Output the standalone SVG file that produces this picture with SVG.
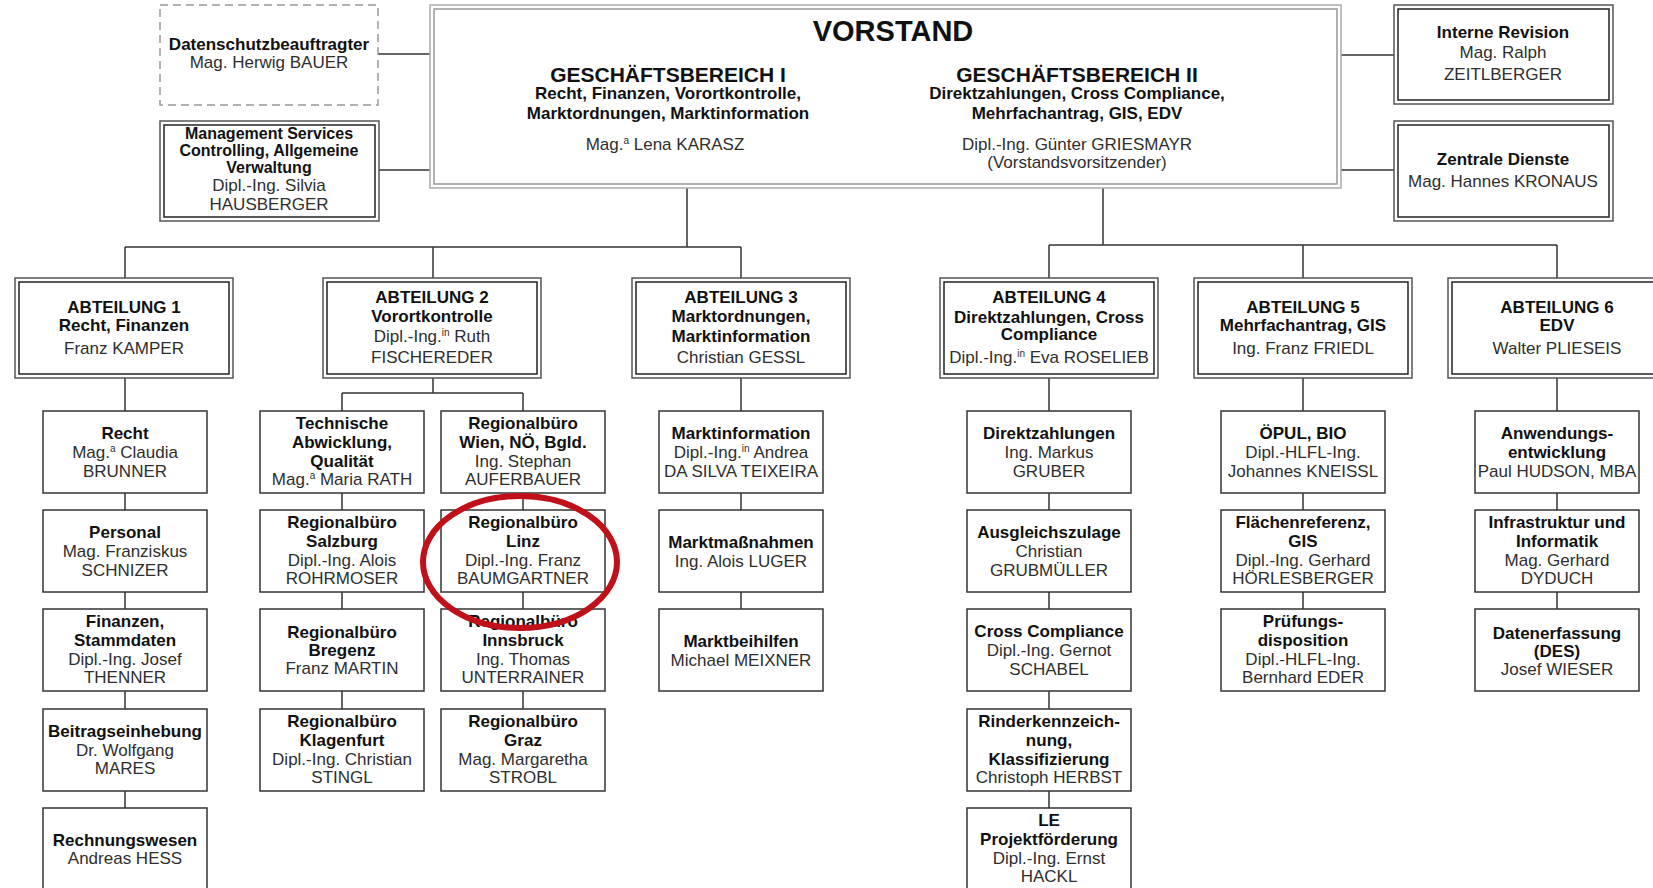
<svg xmlns="http://www.w3.org/2000/svg" width="1653" height="888" viewBox="0 0 1653 888">
<style>
text{font-family:"Liberation Sans",Arial,sans-serif;font-size:17px;text-anchor:middle;fill:#2e2e2e}
.b{font-weight:bold;fill:#111}
.box{fill:#fff;stroke:#333;stroke-width:1.5}
.dbo{fill:#fff;stroke:#555;stroke-width:1.5}
.dbi{fill:none;stroke:#222;stroke-width:1.5}
.vo{fill:#fff;stroke:#aaa;stroke-width:1.5}
.vi{fill:none;stroke:#999;stroke-width:1.5}
.dash{fill:#fff;stroke:#999;stroke-width:1.5;stroke-dasharray:8 5}
.con{fill:none;stroke:#333;stroke-width:1.5}
.sup{font-size:10px}
.ms{font-size:16px}
</style>
<rect width="1653" height="888" fill="#fff"/>
<g id="connectors" class="con">
<path d="M378 54H430 M379 170H430 M1341 55H1394 M1341 170H1394"/>
<path d="M687 188V247 M125 247H741 M125 247V278 M433 247V278 M741 247V278"/>
<path d="M1103 188V245 M1049 245H1557 M1049 245V278 M1303 245V278 M1557 245V278"/>
<path d="M125 378V411 M125 493V510 M125 592V609 M125 691V709 M125 791V808"/>
<path d="M433 378V393 M342 393H523 M342 393V411 M523 393V411 M342 493V510 M342 592V609 M342 691V709 M523 493V510 M523 592V609 M523 691V709"/>
<path d="M741 378V411 M741 493V510 M741 592V609"/>
<path d="M1049 378V411 M1049 493V510 M1049 592V609 M1049 691V709 M1049 791V808"/>
<path d="M1303 378V411 M1303 493V510 M1303 592V609"/>
<path d="M1557 378V411 M1557 493V510 M1557 592V609"/>
</g>
<g id="vorstand">
<rect class="vo" x="430" y="5" width="911" height="183"/>
<rect class="vi" x="434" y="9" width="903" height="175"/>
<text class="b" x="893" y="41" style="font-size:29px">VORSTAND</text>
<text class="b" x="668" y="82" style="font-size:21px">GESCHÄFTSBEREICH I</text>
<text class="b" x="668" y="99">Recht, Finanzen, Vorortkontrolle,</text>
<text class="b" x="668" y="119">Marktordnungen, Marktinformation</text>
<text x="665" y="150">Mag.<tspan class="sup" dy="-6">a</tspan><tspan dy="6"> Lena KARASZ</tspan></text>
<text class="b" x="1077" y="82" style="font-size:21px">GESCHÄFTSBEREICH II</text>
<text class="b" x="1077" y="99">Direktzahlungen, Cross Compliance,</text>
<text class="b" x="1077" y="119">Mehrfachantrag, GIS, EDV</text>
<text x="1077" y="150">Dipl.-Ing. Günter GRIESMAYR</text>
<text x="1077" y="168">(Vorstandsvorsitzender)</text>
</g>
<g id="datenschutz">
<rect class="dash" x="160" y="5" width="218" height="100"/>
<text class="b" x="269" y="50">Datenschutzbeauftragter</text>
<text x="269" y="68">Mag. Herwig BAUER</text>
</g>
<g id="management">
<rect class="dbo" x="160" y="121" width="219" height="100"/>
<rect class="dbi" x="164" y="125" width="211" height="92"/>
<text class="b ms" x="269" y="139">Management Services</text>
<text class="b ms" x="269" y="156">Controlling, Allgemeine</text>
<text class="b ms" x="269" y="173">Verwaltung</text>
<text x="269" y="191">Dipl.-Ing. Silvia</text>
<text x="269" y="210">HAUSBERGER</text>
</g>
<g id="revision">
<rect class="dbo" x="1394" y="5" width="219" height="99"/>
<rect class="dbi" x="1398" y="9" width="211" height="91"/>
<text class="b" x="1503" y="38">Interne Revision</text>
<text x="1503" y="58">Mag. Ralph</text>
<text x="1503" y="80">ZEITLBERGER</text>
</g>
<g id="zentrale">
<rect class="dbo" x="1394" y="121" width="219" height="100"/>
<rect class="dbi" x="1398" y="125" width="211" height="92"/>
<text class="b" x="1503" y="165">Zentrale Dienste</text>
<text x="1503" y="187">Mag. Hannes KRONAUS</text>
</g>
<g id="abt1">
<rect class="dbo" x="15" y="278" width="218" height="100"/>
<rect class="dbi" x="19" y="282" width="210" height="92"/>
<text class="b" x="124" y="313">ABTEILUNG 1</text>
<text class="b" x="124" y="331">Recht, Finanzen</text>
<text x="124" y="354">Franz KAMPER</text>
</g>
<g id="abt2">
<rect class="dbo" x="323" y="278" width="218" height="100"/>
<rect class="dbi" x="327" y="282" width="210" height="92"/>
<text class="b" x="432" y="303">ABTEILUNG 2</text>
<text class="b" x="432" y="322">Vorortkontrolle</text>
<text x="432" y="342">Dipl.-Ing.<tspan class="sup" dy="-6">in</tspan><tspan dy="6"> Ruth</tspan></text>
<text x="432" y="363">FISCHEREDER</text>
</g>
<g id="abt3">
<rect class="dbo" x="632" y="278" width="218" height="100"/>
<rect class="dbi" x="636" y="282" width="210" height="92"/>
<text class="b" x="741" y="303">ABTEILUNG 3</text>
<text class="b" x="741" y="322">Marktordnungen,</text>
<text class="b" x="741" y="342">Marktinformation</text>
<text x="741" y="363">Christian GESSL</text>
</g>
<g id="abt4">
<rect class="dbo" x="940" y="278" width="218" height="100"/>
<rect class="dbi" x="944" y="282" width="210" height="92"/>
<text class="b" x="1049" y="303">ABTEILUNG 4</text>
<text class="b" x="1049" y="323">Direktzahlungen, Cross</text>
<text class="b" x="1049" y="340">Compliance</text>
<text x="1049" y="363">Dipl.-Ing.<tspan class="sup" dy="-6">in</tspan><tspan dy="6"> Eva ROSELIEB</tspan></text>
</g>
<g id="abt5">
<rect class="dbo" x="1194" y="278" width="218" height="100"/>
<rect class="dbi" x="1198" y="282" width="210" height="92"/>
<text class="b" x="1303" y="313">ABTEILUNG 5</text>
<text class="b" x="1303" y="331">Mehrfachantrag, GIS</text>
<text x="1303" y="354">Ing. Franz FRIEDL</text>
</g>
<g id="abt6">
<rect class="dbo" x="1448" y="278" width="218" height="100"/>
<rect class="dbi" x="1452" y="282" width="210" height="92"/>
<text class="b" x="1557" y="313">ABTEILUNG 6</text>
<text class="b" x="1557" y="331">EDV</text>
<text x="1557" y="354">Walter PLIESEIS</text>
</g>
<!-- Abteilung 1 column -->
<g id="recht"><rect class="box" x="43" y="411" width="164" height="82"/>
<text class="b" x="125" y="439">Recht</text>
<text x="125" y="458">Mag.<tspan class="sup" dy="-6">a</tspan><tspan dy="6"> Claudia</tspan></text>
<text x="125" y="477">BRUNNER</text></g>
<g id="personal"><rect class="box" x="43" y="510" width="164" height="82"/>
<text class="b" x="125" y="538">Personal</text>
<text x="125" y="557">Mag. Franziskus</text>
<text x="125" y="576">SCHNIZER</text></g>
<g id="finanzen"><rect class="box" x="43" y="609" width="164" height="82"/>
<text class="b" x="125" y="627">Finanzen,</text>
<text class="b" x="125" y="646">Stammdaten</text>
<text x="125" y="665">Dipl.-Ing. Josef</text>
<text x="125" y="683">THENNER</text></g>
<g id="beitrag"><rect class="box" x="43" y="709" width="164" height="82"/>
<text class="b" x="125" y="737">Beitragseinhebung</text>
<text x="125" y="756">Dr. Wolfgang</text>
<text x="125" y="774">MARES</text></g>
<g id="rechnungswesen"><rect class="box" x="43" y="808" width="164" height="82"/>
<text class="b" x="125" y="846">Rechnungswesen</text>
<text x="125" y="864">Andreas HESS</text></g>
<!-- Abteilung 2 columns -->
<g id="technische"><rect class="box" x="260" y="411" width="164" height="82"/>
<text class="b" x="342" y="429">Technische</text>
<text class="b" x="342" y="448">Abwicklung,</text>
<text class="b" x="342" y="467">Qualität</text>
<text x="342" y="485">Mag.<tspan class="sup" dy="-6">a</tspan><tspan dy="6"> Maria RATH</tspan></text></g>
<g id="salzburg"><rect class="box" x="260" y="510" width="164" height="82"/>
<text class="b" x="342" y="528">Regionalbüro</text>
<text class="b" x="342" y="547">Salzburg</text>
<text x="342" y="566">Dipl.-Ing. Alois</text>
<text x="342" y="584">ROHRMOSER</text></g>
<g id="bregenz"><rect class="box" x="260" y="609" width="164" height="82"/>
<text class="b" x="342" y="638">Regionalbüro</text>
<text class="b" x="342" y="656">Bregenz</text>
<text x="342" y="674">Franz MARTIN</text></g>
<g id="klagenfurt"><rect class="box" x="260" y="709" width="164" height="82"/>
<text class="b" x="342" y="727">Regionalbüro</text>
<text class="b" x="342" y="746">Klagenfurt</text>
<text x="342" y="765">Dipl.-Ing. Christian</text>
<text x="342" y="783">STINGL</text></g>
<g id="wien"><rect class="box" x="441" y="411" width="164" height="82"/>
<text class="b" x="523" y="429">Regionalbüro</text>
<text class="b" x="523" y="448">Wien, NÖ, Bgld.</text>
<text x="523" y="467">Ing. Stephan</text>
<text x="523" y="485">AUFERBAUER</text></g>
<g id="linz"><rect class="box" x="441" y="510" width="164" height="82"/>
<text class="b" x="523" y="528">Regionalbüro</text>
<text class="b" x="523" y="547">Linz</text>
<text x="523" y="566">Dipl.-Ing. Franz</text>
<text x="523" y="584">BAUMGARTNER</text></g>
<g id="innsbruck"><rect class="box" x="441" y="609" width="164" height="82"/>
<text class="b" x="523" y="627">Regionalbüro</text>
<text class="b" x="523" y="646">Innsbruck</text>
<text x="523" y="665">Ing. Thomas</text>
<text x="523" y="683">UNTERRAINER</text></g>
<g id="graz"><rect class="box" x="441" y="709" width="164" height="82"/>
<text class="b" x="523" y="727">Regionalbüro</text>
<text class="b" x="523" y="746">Graz</text>
<text x="523" y="765">Mag. Margaretha</text>
<text x="523" y="783">STROBL</text></g>
<!-- Abteilung 3 column -->
<g id="marktinformation"><rect class="box" x="659" y="411" width="164" height="82"/>
<text class="b" x="741" y="439">Marktinformation</text>
<text x="741" y="458">Dipl.-Ing.<tspan class="sup" dy="-6">in</tspan><tspan dy="6"> Andrea</tspan></text>
<text x="741" y="477">DA SILVA TEIXEIRA</text></g>
<g id="marktmassnahmen"><rect class="box" x="659" y="510" width="164" height="82"/>
<text class="b" x="741" y="548">Marktmaßnahmen</text>
<text x="741" y="567">Ing. Alois LUGER</text></g>
<g id="marktbeihilfen"><rect class="box" x="659" y="609" width="164" height="82"/>
<text class="b" x="741" y="647">Marktbeihilfen</text>
<text x="741" y="666">Michael MEIXNER</text></g>
<!-- Abteilung 4 column -->
<g id="direktzahlungen"><rect class="box" x="967" y="411" width="164" height="82"/>
<text class="b" x="1049" y="439">Direktzahlungen</text>
<text x="1049" y="458">Ing. Markus</text>
<text x="1049" y="477">GRUBER</text></g>
<g id="ausgleichszulage"><rect class="box" x="967" y="510" width="164" height="82"/>
<text class="b" x="1049" y="538">Ausgleichszulage</text>
<text x="1049" y="557">Christian</text>
<text x="1049" y="576">GRUBMÜLLER</text></g>
<g id="crosscompliance"><rect class="box" x="967" y="609" width="164" height="82"/>
<text class="b" x="1049" y="637">Cross Compliance</text>
<text x="1049" y="656">Dipl.-Ing. Gernot</text>
<text x="1049" y="675">SCHABEL</text></g>
<g id="rinder"><rect class="box" x="967" y="709" width="164" height="82"/>
<text class="b" x="1049" y="727">Rinderkennzeich-</text>
<text class="b" x="1049" y="746">nung,</text>
<text class="b" x="1049" y="765">Klassifizierung</text>
<text x="1049" y="783">Christoph HERBST</text></g>
<g id="le"><rect class="box" x="967" y="808" width="164" height="82"/>
<text class="b" x="1049" y="826">LE</text>
<text class="b" x="1049" y="845">Projektförderung</text>
<text x="1049" y="864">Dipl.-Ing. Ernst</text>
<text x="1049" y="882">HACKL</text></g>
<!-- Abteilung 5 column -->
<g id="oepul"><rect class="box" x="1221" y="411" width="164" height="82"/>
<text class="b" x="1303" y="439">ÖPUL, BIO</text>
<text x="1303" y="458">Dipl.-HLFL-Ing.</text>
<text x="1303" y="477">Johannes KNEISSL</text></g>
<g id="flaechenreferenz"><rect class="box" x="1221" y="510" width="164" height="82"/>
<text class="b" x="1303" y="528">Flächenreferenz,</text>
<text class="b" x="1303" y="547">GIS</text>
<text x="1303" y="566">Dipl.-Ing. Gerhard</text>
<text x="1303" y="584">HÖRLESBERGER</text></g>
<g id="pruefung"><rect class="box" x="1221" y="609" width="164" height="82"/>
<text class="b" x="1303" y="627">Prüfungs-</text>
<text class="b" x="1303" y="646">disposition</text>
<text x="1303" y="665">Dipl.-HLFL-Ing.</text>
<text x="1303" y="683">Bernhard EDER</text></g>
<!-- Abteilung 6 column -->
<g id="anwendung"><rect class="box" x="1475" y="411" width="164" height="82"/>
<text class="b" x="1557" y="439">Anwendungs-</text>
<text class="b" x="1557" y="458">entwicklung</text>
<text x="1557" y="477">Paul HUDSON, MBA</text></g>
<g id="infrastruktur"><rect class="box" x="1475" y="510" width="164" height="82"/>
<text class="b" x="1557" y="528">Infrastruktur und</text>
<text class="b" x="1557" y="547">Informatik</text>
<text x="1557" y="566">Mag. Gerhard</text>
<text x="1557" y="584">DYDUCH</text></g>
<g id="datenerfassung"><rect class="box" x="1475" y="609" width="164" height="82"/>
<text class="b" x="1557" y="639">Datenerfassung</text>
<text class="b" x="1557" y="657">(DES)</text>
<text x="1557" y="675">Josef WIESER</text></g>
<g id="highlight">
<ellipse cx="520" cy="562" rx="97" ry="66" fill="none" stroke="#c0101a" stroke-width="6"/>
</g>
</svg>
